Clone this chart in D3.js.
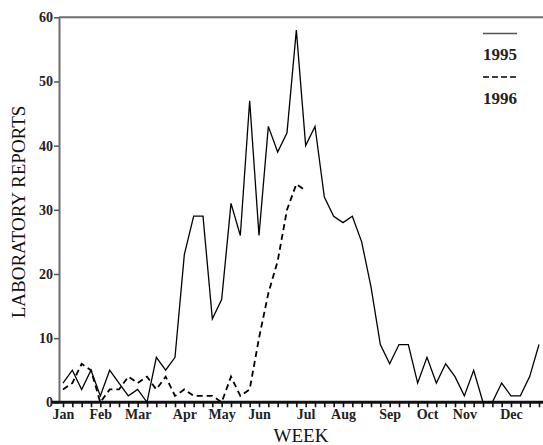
<!DOCTYPE html>
<html>
<head>
<meta charset="utf-8">
<script src="https://cdn.jsdelivr.net/npm/d3@7"></script>
<style>
body { margin: 0; background: #fff; }
svg { display: block; }
</style>
</head>
<body>
<svg id="chart" width="543" height="445"></svg>
<script>
// weekly laboratory reports
var weeks = d3.range(1, 53);
var reports1995 = [3, 5, 2, 5, 1, 5, 3, 1, 2, 0, 7, 5, 7, 23, 29, 29, 13, 16, 31, 26,
  47, 26, 43, 39, 42, 58, 40, 43, 32, 29, 28, 29, 25, 18, 9, 6, 9, 9, 3, 7,
  3, 6, 4, 1, 5, 0, 0, 3, 1, 1, 4, 9];
var reports1996 = [2, 3, 6, 5, 0, 2, 2, 4, 3, 4, 2, 4, 1, 2, 1, 1, 1, 0, 4, 1,
  2, 10, 17, 22, 30, 34, 33];
var monthNames = ["Jan", "Feb", "Mar", "Apr", "May", "Jun", "Jul", "Aug", "Sep", "Oct", "Nov", "Dec"];
var monthWeeks = [1, 5, 9, 14, 18, 22, 27, 31, 36, 40, 44, 49];
var yTicks = [0, 10, 20, 30, 40, 50, 60];
var seriesNames = ["1995", "1996"];

function drawChart() {
  var svg = d3.select("#chart");
  var serif = "'Liberation Serif', 'Times New Roman', serif";

  var x = d3.scaleLinear().domain([1, 52]).range([63, 539]);
  var y = d3.scaleLinear().domain([0, 60]).range([402.3, 17.3]);

  // top frame line
  svg.append("line")
  .attr("x1", 59).attr("y1", y(60))
  .attr("x2", 543).attr("y2", y(60))
  .attr("stroke", "#6e6e6e")
  .attr("stroke-width", 2);

  // y axis
  var yAxis = svg.append("g")
  .attr("transform", "translate(59,0)")
  .call(d3.axisLeft(y).tickValues(yTicks).tickSize(5).tickPadding(1).tickSizeOuter(0));
  yAxis.select(".domain").attr("stroke", "#6e6e6e").attr("stroke-width", 2);
  yAxis.selectAll(".tick line").attr("stroke", "#555").attr("stroke-width", 1.5);
  yAxis.selectAll("text")
  .attr("font-family", serif)
  .attr("font-weight", "bold")
  .attr("font-size", 14)
  .attr("fill", "#222");

  // x axis: one tick per week, month names at their first week
  var monthLabel = {};
  monthWeeks.forEach(function(w, i) { monthLabel[w] = monthNames[i]; });
  var xAxis = svg.append("g")
  .attr("transform", "translate(0," + y(0) + ")")
  .call(d3.axisBottom(x).tickValues(weeks).tickSize(5).tickPadding(2).tickSizeOuter(0)
    .tickFormat(function(d) { return monthLabel[d] || ""; }));
  xAxis.select(".domain").remove();
  xAxis.selectAll(".tick line").attr("stroke", "#111").attr("stroke-width", 1.6);
  xAxis.selectAll("text")
  .attr("font-family", serif)
  .attr("font-weight", "bold")
  .attr("font-size", 14)
  .attr("fill", "#222");
  svg.append("line")
  .attr("x1", 52).attr("y1", y(0))
  .attr("x2", 543).attr("y2", y(0))
  .attr("stroke", "#111")
  .attr("stroke-width", 3);

  // series lines
  var line = d3.line()
  .x(function(d, i) { return x(weeks[i]); })
  .y(function(d) { return y(d); });

  svg.append("path")
  .datum(reports1995)
  .attr("d", line)
  .attr("fill", "none")
  .attr("stroke", "#000")
  .attr("stroke-width", 1.3)
  .attr("stroke-linejoin", "miter");

  svg.append("path")
  .datum(reports1996)
  .attr("d", line)
  .attr("fill", "none")
  .attr("stroke", "#000")
  .attr("stroke-width", 1.8)
  .attr("stroke-dasharray", "6,4");

  // legend
  var legend = svg.append("g").attr("transform", "translate(483,0)");
  legend.append("line")
  .attr("x1", 0).attr("y1", 33.5).attr("x2", 34).attr("y2", 33.5)
  .attr("stroke", "#555").attr("stroke-width", 1.3);
  legend.append("text")
  .attr("x", 0).attr("y", 60)
  .attr("font-family", serif).attr("font-weight", "bold").attr("font-size", 17)
  .attr("fill", "#222")
  .text(seriesNames[0]);
  legend.append("line")
  .attr("x1", 0).attr("y1", 77).attr("x2", 34).attr("y2", 77)
  .attr("stroke", "#000").attr("stroke-width", 1.6)
  .attr("stroke-dasharray", "6,3");
  legend.append("text")
  .attr("x", 0).attr("y", 104)
  .attr("font-family", serif).attr("font-weight", "bold").attr("font-size", 17)
  .attr("fill", "#222")
  .text(seriesNames[1]);

  // axis titles
  svg.append("text")
  .attr("x", 301).attr("y", 442)
  .attr("text-anchor", "middle")
  .attr("font-family", serif)
  .attr("font-size", 19)
  .attr("fill", "#111")
  .text("WEEK");

  svg.append("text")
  .attr("transform", "translate(25,212) rotate(-90)")
  .attr("text-anchor", "middle")
  .attr("font-family", serif)
  .attr("font-size", 19)
  .attr("fill", "#111")
  .text("LABORATORY REPORTS");
}

drawChart();
</script>
</body>
</html>
